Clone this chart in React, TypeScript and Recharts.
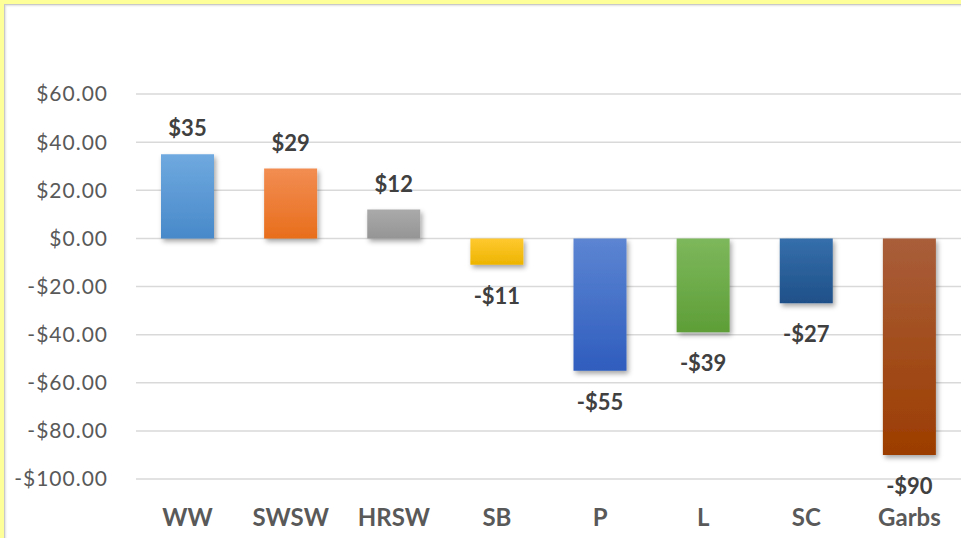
import { BarChart, Bar, XAxis, YAxis, CartesianGrid, Cell, LabelList } from 'recharts';

const categories = ['WW', 'SWSW', 'HRSW', 'SB', 'P', 'L', 'SC', 'Garbs'];
const values = [35, 29, 12, -11, -55, -39, -27, -90];
const yTicks = [-100, -80, -60, -40, -20, 0, 20, 40, 60];
// top / bottom colour of each bar's gradient
const topColors = ['#6FA9DF', '#F28D52', '#AAAAAA', '#FFC930', '#5C85D2', '#7DB85C', '#356FAC', '#A95E3A'];
const bottomColors = ['#4889CA', '#E86E1C', '#959595', '#EDB400', '#2F5DBE', '#5E9E37', '#1F5088', '#9C3D00'];

const data = categories.map((name, i) => ({ name, value: values[i] }));

const money = (v: number, digits: number) =>
  v < 0 ? `-$${Math.abs(v).toFixed(digits)}` : `$${v.toFixed(digits)}`;

function ValueLabel(props: any) {
  const { x, y, width, height, value } = props;
  const top = Math.min(y, y + height);
  const bottom = Math.max(y, y + height);
  const cx = x + width / 2;
  const ty = value >= 0 ? top - 18 : bottom + 39;
  return (
    <text x={cx} y={ty} textAnchor="middle" fill="#404040" fontSize={22} fontWeight="bold" fontFamily="Lato">
      {money(value, 0)}
    </text>
  );
}

export default function App() {
  return (
    <div style={{ position: 'absolute', left: 0, top: 0, width: 961, height: 538, background: '#FFFF99', overflow: 'hidden' }}>
      <div
        style={{
          position: 'absolute', left: 4, top: 4, width: 970, height: 540, background: '#fff',
          borderLeft: '1px solid #C9C9C9', borderTop: '1px solid #C9C9C9',
          boxShadow: 'inset 1px 1px 2px rgba(0,0,0,0.12)',
        }}
      />
      <div style={{ position: 'absolute', left: 0, top: 0 }}>
        <BarChart width={961} height={538} data={data} margin={{ top: 94, right: 0, bottom: 0, left: 0 }} barSize={53}>
          <defs>
            {categories.map((c, i) => (
              <linearGradient key={c} id={`g${i}`} x1="0" y1="0" x2="0" y2="1">
                <stop offset="0%" stopColor={topColors[i]} />
                <stop offset="100%" stopColor={bottomColors[i]} />
              </linearGradient>
            ))}
            <filter id="shadow" x="-20%" y="-20%" width="150%" height="150%">
              <feDropShadow dx="2" dy="3" stdDeviation="2.5" floodColor="#000" floodOpacity="0.35" />
            </filter>
          </defs>
          <CartesianGrid vertical={false} stroke="#D9D9D9" strokeWidth={1.5} />
          <XAxis
            dataKey="name"
            axisLine={false}
            tickLine={false}
            height={59}
            tickMargin={24}
            tick={{ fill: '#595959', fontSize: 24, fontWeight: 'bold', fontFamily: 'Lato' }}
            interval={0}
          />
          <YAxis
            width={136}
            domain={[-100, 60]}
            ticks={yTicks}
            axisLine={false}
            tickLine={false}
            tickMargin={22}
            tickFormatter={(v: number) => money(v, 2)}
            tick={{ fill: '#595959', fontSize: 21, fontFamily: 'Lato', letterSpacing: 1 }}
          />
          <Bar dataKey="value" isAnimationActive={false} filter="url(#shadow)">
            {data.map((d, i) => (
              <Cell key={d.name} fill={`url(#g${i})`} />
            ))}
            <LabelList dataKey="value" content={ValueLabel} />
          </Bar>
        </BarChart>
      </div>
    </div>
  );
}
